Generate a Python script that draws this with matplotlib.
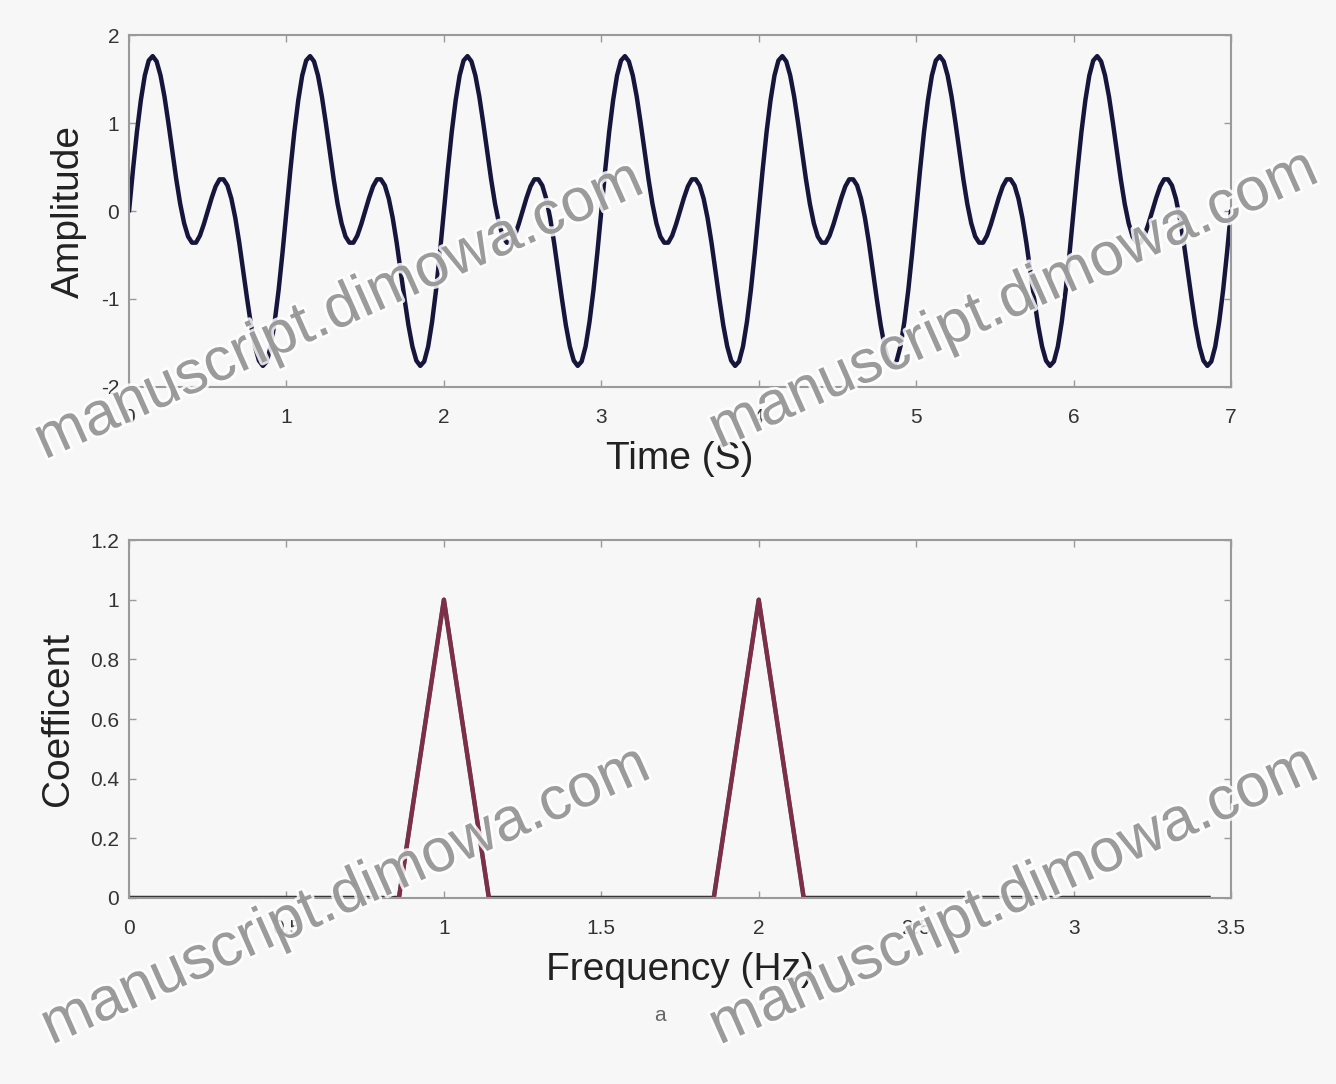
#!/usr/bin/env python3
"""Time signal and its frequency coefficients (two stacked panels)."""

import numpy as np
import matplotlib.pyplot as plt
import matplotlib.patheffects as pe

# one cycle of the time signal, read every 0.025 s (period 1 s)
cycle_step = 0.025
cycle_values = [
    0.00, 0.47, 0.90, 1.26, 1.54, 1.71, 1.76, 1.70, 1.54, 1.30,
    1.00, 0.68, 0.36, 0.08, -0.14, -0.29, -0.36, -0.36, -0.28, -0.15,
    0.00, 0.15, 0.28, 0.36, 0.36, 0.29, 0.14, -0.08, -0.36, -0.68,
    -1.00, -1.30, -1.54, -1.70, -1.76, -1.71, -1.54, -1.26, -0.90, -0.47,
]
n_cycles = 7

# spectrum bins (1/7 Hz apart) and their coefficients
freq_step = 1 / 7
coefficients = [0, 0, 0, 0, 0, 0, 0, 1, 0, 0, 0, 0, 0, 0,
                1, 0, 0, 0, 0, 0, 0, 0, 0, 0, 0]

time_ticks = [0, 1, 2, 3, 4, 5, 6, 7]
amp_ticks = [-2, -1, 0, 1, 2]
freq_ticks = [0, 0.5, 1, 1.5, 2, 2.5, 3, 3.5]
freq_labels = ['0', '0.5', '1', '1.5', '2', '2.5', '3', '3.5']
coef_ticks = [0, 0.2, 0.4, 0.6, 0.8, 1, 1.2]
coef_labels = ['0', '0.2', '0.4', '0.6', '0.8', '1', '1.2']

plt.rcParams['font.family'] = ['Liberation Sans', 'DejaVu Sans']
plt.rcParams['axes.unicode_minus'] = False

signal = np.append(np.tile(cycle_values, n_cycles), cycle_values[0])
t = np.arange(len(signal)) * cycle_step
freqs = np.arange(len(coefficients)) * freq_step
coef = np.array(coefficients, dtype=float)

bg = '#f7f7f7'
fig = plt.figure(figsize=(13.36, 10.84), dpi=100, facecolor=bg)
ax1 = fig.add_axes([0.0966, 0.643, 0.8248, 0.3247])
ax2 = fig.add_axes([0.0966, 0.1716, 0.8248, 0.3302])


def style(ax):
    ax.set_facecolor(bg)
    for s in ax.spines.values():
        s.set_color('#9a9a9a')
        s.set_linewidth(1.5)
    ax.tick_params(direction='in', top=True, right=True, length=5,
                   width=1, color='#9a9a9a', labelsize=15, labelcolor='#333333')
    ax.tick_params(axis='x', pad=15)
    ax.tick_params(axis='y', pad=7)


# top panel
style(ax1)
ax1.plot(t, signal, color='#16163c', lw=3.2, solid_capstyle='round')
ax1.set_xlim(0, 7)
ax1.set_ylim(-2, 2)
ax1.set_xticks(time_ticks)
ax1.set_yticks(amp_ticks)
ax1.set_xlabel('Time (S)', fontsize=28, color='#222222', labelpad=10)
ax1.set_ylabel('Amplitude', fontsize=28, color='#222222', labelpad=10)

# bottom panel
style(ax2)
ax2.plot(freqs, coef, color='#333333', lw=3.2)
for i in np.nonzero(coef)[0]:
    seg = slice(i - 1, i + 2)
    ax2.plot(freqs[seg], coef[seg], color='#a02c55', lw=3.0, alpha=0.7)
ax2.set_xlim(0, 3.5)
ax2.set_ylim(0, 1.2)
ax2.set_xticks(freq_ticks)
ax2.set_xticklabels(freq_labels)
ax2.set_yticks(coef_ticks)
ax2.set_yticklabels(coef_labels)
ax2.set_xlabel('Frequency (Hz)', fontsize=28, color='#222222', labelpad=10)
ax2.set_ylabel('Coefficent', fontsize=28, color='#222222', labelpad=10)

fig.text(0.494, 0.058, 'a', fontsize=15, color='#666666', ha='center')

# watermark
wm = 'manuscript.dimowa.com'
for x, y in [(0.02, 0.565), (0.525, 0.575), (0.025, 0.025), (0.525, 0.025)]:
    fig.text(x, y, wm, fontsize=44, color='#8c8c8c', alpha=0.85,
             rotation=24, ha='left', va='bottom',
             path_effects=[pe.withStroke(linewidth=4, foreground='white')])

fig.savefig('out.png', dpi=100, facecolor=bg)
